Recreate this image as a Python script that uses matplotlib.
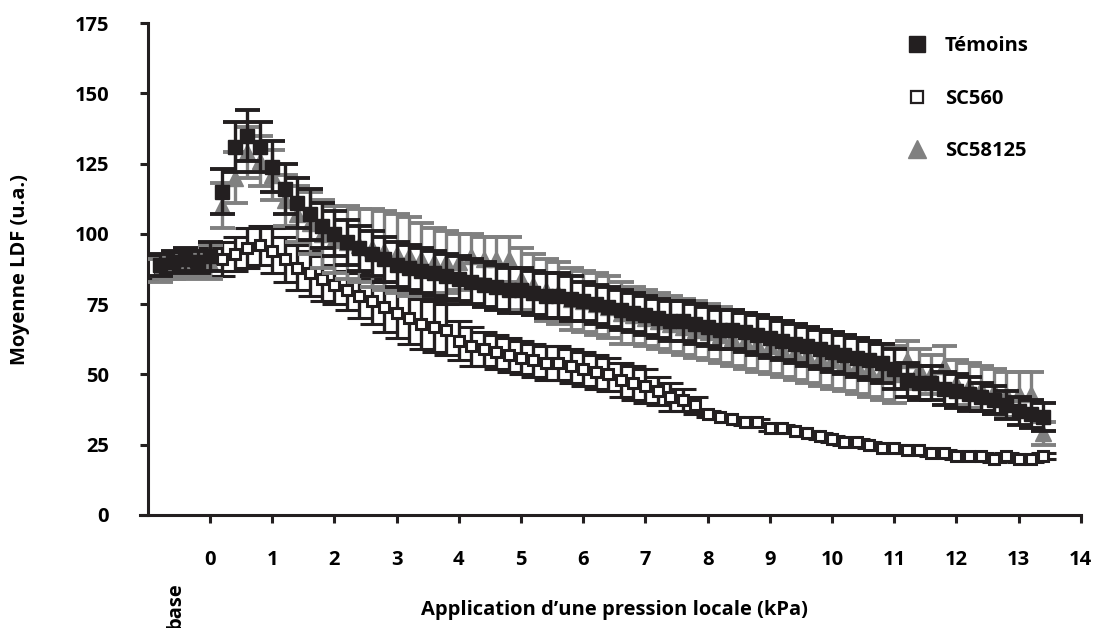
import matplotlib

matplotlib.use("Agg")
import matplotlib.pyplot as plt
import numpy as np
from matplotlib.lines import Line2D

plt.rcParams["font.family"] = ["Open Sans", "DejaVu Sans"]
plt.rcParams["font.weight"] = "bold"

# pressure steps (kPa): four baseline readings, then 0 -> 13.4 every 0.2
BASE_X = [-0.8, -0.6, -0.4, -0.2]
STEP_X = np.round(np.arange(0, 68) * 0.2, 1)
X = np.concatenate([BASE_X, STEP_X])

temoins = [
    89, 90, 91, 90,
    92, 115, 131, 135, 131, 124, 116, 111, 107, 103,
    100, 97, 95, 93, 91, 89, 88, 87, 86, 85,
    84, 83, 82, 81, 80, 80, 79, 78, 78, 77,
    76, 75, 74, 73, 72, 71, 70, 69, 69, 68,
    67, 66, 66, 65, 64, 63, 62, 61, 60, 59,
    58, 57, 56, 55, 54, 52, 48, 47, 47, 45,
    44, 43, 42, 41, 39, 37, 36, 35,
]
temoins_err = [
    4, 4, 4, 4,
    5, 8, 9, 9, 9, 9, 9, 9, 9, 8,
    8, 8, 8, 8, 8, 8, 8, 8, 8, 8,
    8, 8, 8, 8, 8, 8, 8, 8, 8, 8,
    7, 7, 7, 7, 7, 7, 7, 7, 7, 7,
    7, 7, 7, 7, 7, 7, 7, 7, 7, 7,
    7, 7, 7, 7, 7, 7, 6, 6, 6, 6,
    6, 6, 5, 5, 5, 5, 5, 5,
]

sc560 = [
    88, 89, 90, 89,
    90, 91, 93, 95, 96, 94, 91, 88, 86, 84,
    82, 80, 78, 76, 74, 72, 70, 68, 67, 66,
    62, 60, 59, 58, 57, 56, 55, 54, 54, 53,
    52, 51, 50, 48, 47, 46, 44, 42, 41, 39,
    36, 35, 34, 33, 33, 31, 31, 30, 29, 28,
    27, 26, 26, 25, 24, 24, 23, 23, 22, 22,
    21, 21, 21, 20, 21, 20, 20, 21,
]
sc560_err = [
    4, 4, 4, 4,
    5, 6, 6, 7, 7, 8, 8, 8, 8, 8,
    7, 7, 8, 8, 9, 9, 9, 9, 9, 9,
    7, 7, 6, 6, 6, 6, 6, 6, 6, 6,
    6, 6, 6, 6, 6, 6, 5, 5, 4, 3,
    1, 1, 1, 1, 1, 1, 1, 1, 1, 1,
    1, 1, 1, 1, 1, 1, 1, 1, 1, 1,
    1, 1, 1, 1, 1, 1, 1, 1,
]

sc58125 = [
    87, 88, 88, 89,
    90, 110, 120, 129, 126, 121, 112, 107, 104, 100,
    98, 97, 96, 95, 94, 93, 92, 91, 90, 90,
    90, 92, 91, 91, 91, 84, 82, 80, 79, 77,
    76, 75, 74, 72, 71, 70, 69, 68, 67, 66,
    65, 64, 63, 62, 61, 60, 59, 58, 57, 56,
    55, 54, 53, 52, 51, 50, 55, 52, 50, 53,
    47, 46, 45, 44, 43, 43, 43, 29,
]
sc58125_err = [
    4, 4, 4, 4,
    6, 8, 9, 9, 9, 9, 9, 10, 11, 12,
    12, 13, 13, 14, 14, 14, 14, 13, 12, 11,
    10, 8, 8, 8, 8, 11, 11, 11, 11, 11,
    11, 11, 11, 11, 10, 10, 10, 10, 10, 10,
    10, 10, 10, 10, 10, 10, 10, 10, 10, 10,
    10, 10, 10, 10, 10, 10, 7, 7, 7, 7,
    8, 8, 8, 8, 8, 8, 8, 4,
]

INK = "#231f20"
GREY = "#808080"
FS = 14.5

fig = plt.figure(figsize=(10.95, 6.28), dpi=100)
ax = fig.add_axes([0.135, 0.18, 0.852, 0.783])

eb = dict(linestyle="none", elinewidth=2.4, capsize=9, capthick=2.8)
ax.errorbar(X, sc560, yerr=sc560_err, fmt="s", ms=7.5, mfc="white",
            mec=INK, mew=2.2, ecolor=INK, zorder=2, **eb)
ax.errorbar(X, sc58125, yerr=sc58125_err, fmt="^", ms=11, mfc=GREY,
            mec=GREY, ecolor=GREY, zorder=3, **eb)
ax.errorbar(X, temoins, yerr=temoins_err, fmt="s", ms=10.5, mfc=INK,
            mec=INK, ecolor=INK, zorder=4, **eb)

ax.set_xlim(-1, 14)
ax.set_ylim(0, 175)
ax.set_xticks(range(0, 15))
ax.set_yticks(range(0, 176, 25))
for side in ("top", "right"):
    ax.spines[side].set_visible(False)
for side in ("left", "bottom"):
    ax.spines[side].set_linewidth(2.2)
    ax.spines[side].set_color(INK)
ax.spines["bottom"].set_bounds(-1.13, 14)
ax.tick_params(axis="x", direction="out", length=6, width=2.2, color=INK,
               pad=19, labelsize=FS)
ax.tick_params(axis="y", direction="out", length=6, width=2.2, color=INK,
               pad=22, labelsize=FS)

ax.set_xlabel("Application d\u2019une pression locale (kPa)", fontsize=FS,
              fontweight="bold", labelpad=22)
ax.set_ylabel("Moyenne LDF (u.a.)", fontsize=FS, fontweight="bold",
              labelpad=32)
ax.text(-0.56, -0.137, "base", transform=ax.get_xaxis_transform(),
        rotation=90, ha="center", va="top", fontsize=FS, fontweight="bold")

handles = [
    Line2D([], [], ls="none", marker="s", ms=11, mfc=INK, mec=INK),
    Line2D([], [], ls="none", marker="s", ms=8, mfc="white", mec=INK, mew=1.6),
    Line2D([], [], ls="none", marker="^", ms=13, mfc=GREY, mec=GREY),
]
ax.legend(handles, ["T\u00e9moins", "SC560", "SC58125"], loc="upper left",
          bbox_to_anchor=(0.794, 1.01), frameon=False, handlelength=1.0,
          labelspacing=1.6, handletextpad=0.9,
          prop={"weight": "bold", "size": FS})

fig.savefig("out.png", dpi=100)
